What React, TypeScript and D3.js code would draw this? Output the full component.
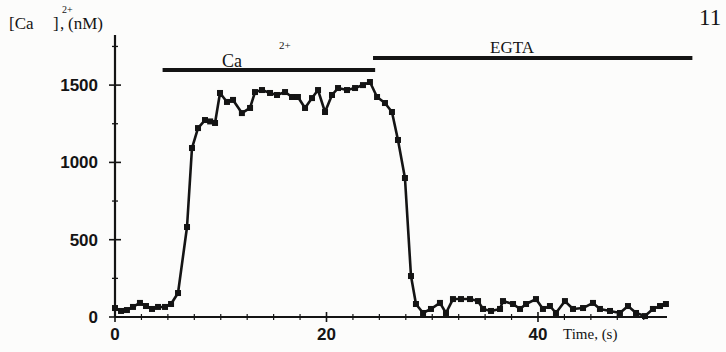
import { useRef, useEffect } from "react";
import * as d3 from "d3";

// time (s) and [Ca2+] (nM)
const times = [
  0.0, 0.57, 1.13, 1.7, 2.36, 2.93, 3.5, 4.07, 4.73, 5.3, 5.96, 6.81, 7.28, 7.85,
  8.51, 9.0, 9.46, 9.93, 10.59, 11.16, 12.0, 12.77, 13.24, 13.9, 14.66, 15.32,
  16.08, 16.74, 17.3, 17.97, 18.63, 19.2, 19.86, 20.52, 21.09, 21.94, 22.7, 23.45,
  24.11, 24.78, 25.53, 26.19, 26.76, 27.42, 27.99, 28.46, 29.13, 29.88, 30.73,
  31.3, 31.96, 32.72, 33.57, 34.33, 34.8, 35.56, 36.41, 36.69, 37.64, 38.3, 38.87,
  39.81, 40.47, 41.13, 41.7, 42.55, 43.31, 44.26, 45.2, 45.86, 46.81, 47.75, 48.51,
  49.27, 50.12, 50.87, 51.54, 52.1,
];
const calcium = [
  58, 39, 45, 65, 91, 71, 52, 65, 65, 84, 155, 582, 1093, 1222, 1274, 1265, 1255,
  1449, 1391, 1404, 1319, 1352, 1455, 1468, 1449, 1436, 1455, 1423, 1423, 1352,
  1416, 1468, 1326, 1436, 1481, 1468, 1481, 1500, 1520, 1423, 1384, 1326, 1145,
  899, 265, 84, 26, 52, 91, 26, 116, 116, 116, 103, 52, 39, 52, 103, 84, 52, 84,
  116, 52, 71, 26, 103, 52, 58, 91, 52, 39, 26, 71, 26, 6, 52, 71, 84,
];

const yTicks = [0, 500, 1000, 1500];
const yMinor = [250, 750, 1250, 1750];
const xTicks = [0, 20, 40];
const xMinor = [2.5, 5, 7.5, 10, 12.5, 15, 17.5, 22.5, 25, 27.5, 30, 32.5, 35, 37.5, 42.5, 45, 47.5, 50];

// treatment bars: start / end in s, drawn at a level in nM
const treatments = [
  { label: "Ca", start: 4.5, end: 24.6, level: 1598 },
  { label: "EGTA", start: 24.4, end: 54.6, level: 1675 },
];

const width = 726;
const height = 352;
const ink = "#141414";
const serif = "'Liberation Serif', 'Times New Roman', serif";
const sans = "'Liberation Sans', Arial, sans-serif";

const CalciumTrace = () => {
  const svgRef = useRef<SVGSVGElement>(null);

  useEffect(() => {
    const svg = d3.select(svgRef.current);
    svg.selectAll("*").remove();

    const x = d3.scaleLinear().domain([0, 52.2]).range([115, 667]);
    const y = d3.scaleLinear().domain([0, 1824]).range([317, 35]);

    svg.append("rect").attr("width", width).attr("height", height).attr("fill", "#fcfcfb");

    // axes
    const g = svg.append("g").attr("stroke", ink);
    g.append("line").attr("x1", x(0)).attr("x2", x(0)).attr("y1", y(1824)).attr("y2", y(0)).attr("stroke-width", 2.2);
    g.append("line").attr("x1", x(0)).attr("x2", x(52.2)).attr("y1", y(0)).attr("y2", y(0)).attr("stroke-width", 2.2);

    yTicks.forEach((t) => {
      g.append("line").attr("x1", x(0) - 6).attr("x2", x(0) + 6).attr("y1", y(t)).attr("y2", y(t)).attr("stroke-width", 1.6);
    });
    yMinor.forEach((t) => {
      g.append("line").attr("x1", x(0) - 3).attr("x2", x(0) + 3).attr("y1", y(t)).attr("y2", y(t)).attr("stroke-width", 1.3);
    });
    xTicks.forEach((t) => {
      g.append("line").attr("x1", x(t)).attr("x2", x(t)).attr("y1", y(0) - 5).attr("y2", y(0) + 5).attr("stroke-width", 1.6);
    });
    xMinor.forEach((t) => {
      g.append("line").attr("x1", x(t)).attr("x2", x(t)).attr("y1", y(0) - 3).attr("y2", y(0) + 3).attr("stroke-width", 1.2);
    });

    svg
      .append("g")
      .selectAll("text")
      .data(yTicks)
      .enter()
      .append("text")
      .attr("x", x(0) - 17)
      .attr("y", (d) => y(d) + 6)
      .attr("text-anchor", "end")
      .attr("font-family", sans)
      .attr("font-weight", "bold")
      .attr("font-size", 17)
      .attr("fill", ink)
      .text((d) => d);

    svg
      .append("g")
      .selectAll("text")
      .data(xTicks)
      .enter()
      .append("text")
      .attr("x", (d) => x(d))
      .attr("y", 340)
      .attr("text-anchor", "middle")
      .attr("font-family", sans)
      .attr("font-weight", "bold")
      .attr("font-size", 17)
      .attr("fill", ink)
      .text((d) => d);

    svg
      .append("text")
      .attr("x", 563)
      .attr("y", 339)
      .attr("font-family", serif)
      .attr("font-size", 15)
      .attr("fill", ink)
      .text("Time, (s)");

    // y-axis title, pieces placed like the typeset original
    const yl = svg.append("g").attr("font-family", serif).attr("fill", ink);
    yl.append("text").attr("x", 9).attr("y", 29).attr("font-size", 17).text("[Ca");
    yl.append("text").attr("x", 53).attr("y", 29).attr("font-size", 17).text("]");
    yl.append("text").attr("x", 62).attr("y", 13).attr("font-size", 10).text("2+");
    yl.append("text").attr("x", 60).attr("y", 29).attr("font-size", 17).text(",");
    yl.append("text").attr("x", 68).attr("y", 29).attr("font-size", 17).text("(nM)");

    // treatment bars
    treatments.forEach((tr) => {
      svg
        .append("line")
        .attr("x1", x(tr.start))
        .attr("x2", x(tr.end))
        .attr("y1", y(tr.level))
        .attr("y2", y(tr.level))
        .attr("stroke", ink)
        .attr("stroke-width", 4);
    });
    svg.append("text").attr("x", 222).attr("y", 67).attr("font-family", serif).attr("font-size", 18).attr("fill", ink).text("Ca");
    svg.append("text").attr("x", 279).attr("y", 49).attr("font-family", serif).attr("font-size", 11).attr("fill", ink).text("2+");
    svg.append("text").attr("x", 490).attr("y", 53).attr("font-family", serif).attr("font-size", 17).attr("fill", ink).text("EGTA");
    svg.append("text").attr("x", 699).attr("y", 25).attr("font-family", serif).attr("font-size", 23).attr("fill", ink).text("11");

    // trace
    const data = times.map((t, i) => ({ t, v: calcium[i] }));
    const line = d3
      .line<{ t: number; v: number }>()
      .x((d) => x(d.t))
      .y((d) => y(d.v));

    svg
      .append("path")
      .datum(data)
      .attr("d", line)
      .attr("fill", "none")
      .attr("stroke", ink)
      .attr("stroke-width", 2.6)
      .attr("stroke-linejoin", "round");

    svg
      .append("g")
      .selectAll("rect")
      .data(data)
      .enter()
      .append("rect")
      .attr("x", (d) => x(d.t) - 3)
      .attr("y", (d) => y(d.v) - 3)
      .attr("width", 6)
      .attr("height", 6)
      .attr("fill", ink);
  }, []);

  return (
    <svg
      ref={svgRef}
      width={width}
      height={height}
      style={{ position: "absolute", left: 0, top: 0 }}
    ></svg>
  );
};

export default function App() {
  return <CalciumTrace />;
}
